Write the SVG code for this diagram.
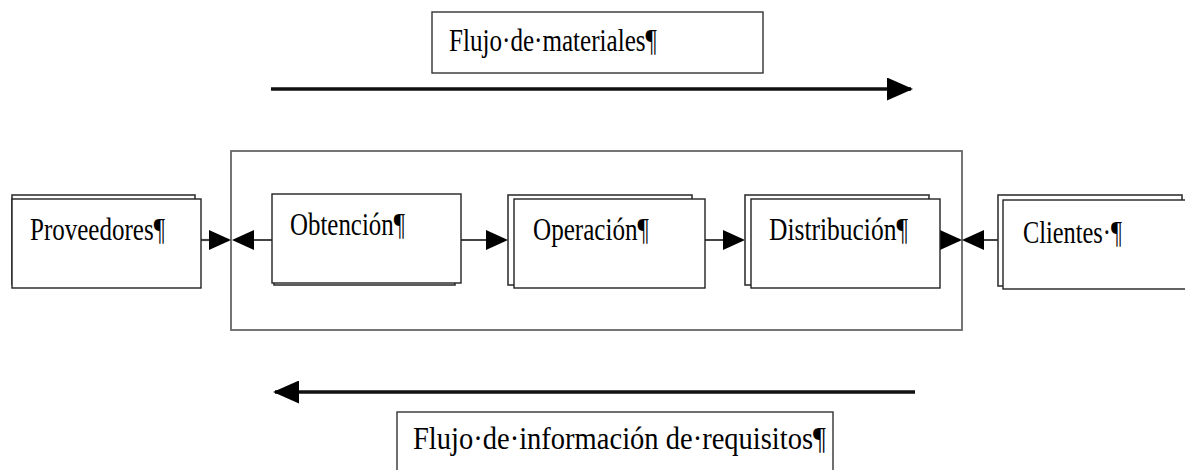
<svg xmlns="http://www.w3.org/2000/svg" width="1185" height="470" viewBox="0 0 1185 470">
<style>
.box{fill:#fff;stroke:#222;stroke-width:1.4}
.back{fill:#fff;stroke:#333;stroke-width:1.6}
.lbl{fill:#fff;stroke:#333;stroke-width:1.4}
.cont{fill:none;stroke:#666;stroke-width:1.8}
.con{fill:none;stroke:#444;stroke-width:2.2}
.flow{fill:none;stroke:#111;stroke-width:3.6}
</style>
<defs>
<marker id="ah" markerWidth="22" markerHeight="20" refX="20" refY="10" orient="auto" markerUnits="userSpaceOnUse"><path d="M0,0 L22,10 L0,20 Z" fill="#000"/></marker>
<marker id="bh" markerWidth="26" markerHeight="23" refX="24" refY="11.5" orient="auto" markerUnits="userSpaceOnUse"><path d="M0,0 L26,11.5 L0,23 Z" fill="#000"/></marker>
</defs>
<rect class="cont" x="231" y="151" width="731" height="179"/>
<g id="connectors">
<path class="flow" d="M271,89 H911" marker-end="url(#bh)"/>
<path class="flow" d="M915,392 H275" marker-end="url(#bh)"/>
<path class="con" d="M201,240 H229" marker-end="url(#ah)"/>
<path class="con" d="M272,240 H234" marker-end="url(#ah)"/>
<path class="con" d="M461,240 H506" marker-end="url(#ah)"/>
<path class="con" d="M705,240 H743" marker-end="url(#ah)"/>
<path class="con" d="M940,240 H960" marker-end="url(#ah)"/>
<path class="con" d="M998,240 H964" marker-end="url(#ah)"/>
</g>
<g font-family="Liberation Serif, Times New Roman, serif" font-size="31" fill="#000">
<g id="flujo-materiales">
<rect class="lbl" x="432" y="12" width="331" height="61"/>
<text x="449" y="51" textLength="208" lengthAdjust="spacingAndGlyphs">Flujo·de·materiales¶</text>
</g>
<g id="proveedores">
<rect class="back" x="12" y="195" width="183" height="89"/>
<rect class="box" x="12" y="199" width="189" height="89"/>
<text x="30" y="240" textLength="135" lengthAdjust="spacingAndGlyphs">Proveedores¶</text>
</g>
<g id="obtencion">
<rect class="back" x="274" y="198" width="181" height="87"/>
<rect class="box" x="272" y="194" width="189" height="89"/>
<text x="290" y="235" textLength="115" lengthAdjust="spacingAndGlyphs">Obtención¶</text>
</g>
<g id="operacion">
<rect class="back" x="508" y="195" width="184" height="90"/>
<rect class="box" x="514" y="199" width="191" height="89"/>
<text x="533" y="240" textLength="116" lengthAdjust="spacingAndGlyphs">Operación¶</text>
</g>
<g id="distribucion">
<rect class="back" x="745" y="195" width="184" height="90"/>
<rect class="box" x="751" y="199" width="189" height="89"/>
<text x="769" y="240" textLength="139" lengthAdjust="spacingAndGlyphs">Distribución¶</text>
</g>
<g id="clientes">
<rect class="back" x="998" y="195" width="184" height="91"/>
<rect class="box" x="1003" y="200" width="190" height="89"/>
<text x="1023" y="243" textLength="99" lengthAdjust="spacingAndGlyphs">Clientes·¶</text>
</g>
<g id="flujo-informacion">
<rect class="lbl" x="397" y="412" width="436" height="70"/>
<text x="413" y="449" textLength="413" lengthAdjust="spacingAndGlyphs">Flujo·de·información de·requisitos¶</text>
</g>
</g>
</svg>
